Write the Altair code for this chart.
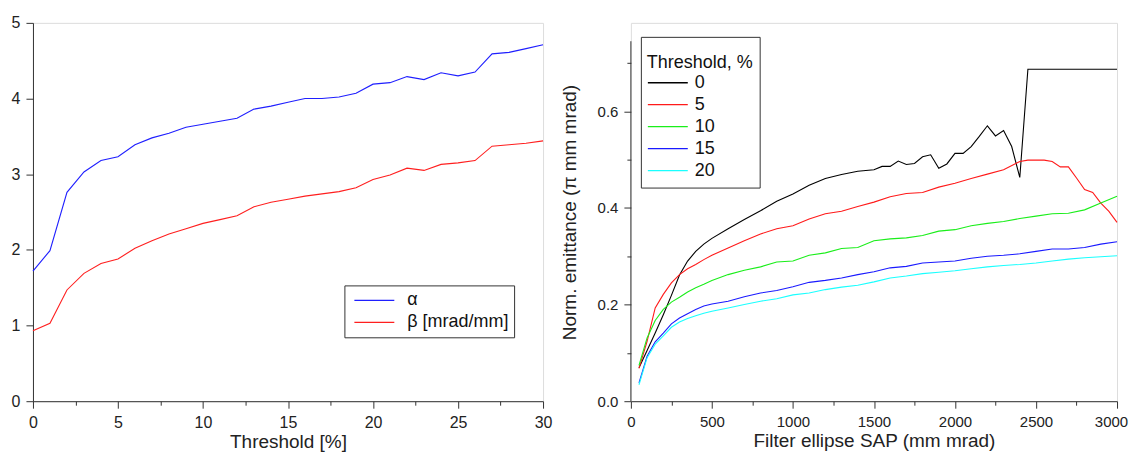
import altair as alt
import pandas as pd

# ---------------- left panel data ----------------
threshold = list(range(31))
alpha_vals = [1.72, 1.99, 2.76, 3.03, 3.18, 3.23, 3.39, 3.48, 3.54, 3.62, 3.66,
              3.70, 3.74, 3.86, 3.90, 3.95, 4.00, 4.00, 4.02, 4.07, 4.19,
              4.21, 4.29, 4.25, 4.34, 4.30, 4.35, 4.59, 4.61, 4.66, 4.71]
beta_vals = [0.93, 1.03, 1.47, 1.69, 1.82, 1.88, 2.02, 2.12, 2.21, 2.28, 2.35,
             2.40, 2.45, 2.57, 2.63, 2.67, 2.71, 2.74, 2.77, 2.82, 2.93,
             2.99, 3.08, 3.05, 3.13, 3.15, 3.18, 3.37, 3.39, 3.41, 3.44]
left_series = ["α", "β [mrad/mm]"]
left_colors = ["#1f1fff", "#ff1f1f"]
left_x_ticks = [0, 2.5, 5, 7.5, 10, 12.5, 15, 17.5, 20, 22.5, 25, 27.5, 30]
left_y_ticks = [0, 0.5, 1, 1.5, 2, 2.5, 3, 3.5, 4, 4.5, 5]

# ---------------- right panel data ----------------
sap_grid = [50, 100, 150, 200, 250, 300, 350, 400, 450, 500,
            600, 700, 800, 900, 1000, 1100, 1200, 1300, 1400, 1500,
            1600, 1700, 1800, 1900, 2000, 2100, 2200, 2300, 2400, 2500,
            2600, 2700, 2800, 2900, 3000]
sap_black = [50, 100, 150, 200, 250, 300, 350, 400, 450, 500,
             600, 700, 800, 900, 1000, 1100, 1200, 1300, 1400, 1500,
             1550, 1600, 1650, 1700, 1750, 1800, 1850, 1900, 1950, 2000,
             2050, 2100, 2150, 2200, 2250, 2300, 2350, 2400, 2450, 2500,
             2600, 2700, 2800, 2900, 3000]
emit_0 = [0.069, 0.105, 0.141, 0.179, 0.219, 0.261, 0.290, 0.310, 0.325, 0.337,
          0.357, 0.376, 0.394, 0.414, 0.429, 0.447, 0.461, 0.469, 0.476, 0.479,
          0.486, 0.486, 0.497, 0.490, 0.492, 0.506, 0.510, 0.482, 0.491, 0.513,
          0.513, 0.527, 0.548, 0.570, 0.549, 0.560, 0.527, 0.463, 0.687, 0.687,
          0.687, 0.687, 0.687, 0.687, 0.687]
sap_red = [50, 100, 150, 200, 250, 300, 350, 400, 450, 500,
           600, 700, 800, 900, 1000, 1100, 1200, 1300, 1400, 1500,
           1600, 1700, 1800, 1900, 2000, 2100, 2200, 2300, 2400, 2450,
           2500, 2550, 2600, 2650, 2700, 2750, 2800, 2850, 2900, 2950, 3000]
emit_5 = [0.068, 0.124, 0.193, 0.221, 0.245, 0.262, 0.274, 0.283, 0.293, 0.302,
          0.317, 0.332, 0.346, 0.357, 0.363, 0.377, 0.388, 0.393, 0.403, 0.412,
          0.423, 0.430, 0.432, 0.443, 0.451, 0.461, 0.470, 0.479, 0.496, 0.499,
          0.499, 0.499, 0.496, 0.485, 0.485, 0.462, 0.438, 0.432, 0.410, 0.393, 0.370]
emit_10 = [0.074, 0.131, 0.167, 0.190, 0.205, 0.215, 0.226, 0.235, 0.242, 0.250,
           0.262, 0.271, 0.278, 0.288, 0.290, 0.302, 0.307, 0.316, 0.318, 0.332,
           0.336, 0.338, 0.343, 0.352, 0.355, 0.363, 0.368, 0.372, 0.378, 0.383,
           0.388, 0.389, 0.396, 0.410, 0.424]
emit_15 = [0.038, 0.093, 0.123, 0.141, 0.160, 0.172, 0.181, 0.190, 0.197, 0.201,
           0.207, 0.216, 0.224, 0.229, 0.237, 0.246, 0.250, 0.255, 0.262, 0.268,
           0.276, 0.279, 0.286, 0.288, 0.290, 0.296, 0.300, 0.302, 0.305, 0.310,
           0.315, 0.315, 0.318, 0.325, 0.330]
emit_20 = [0.034, 0.090, 0.118, 0.135, 0.153, 0.164, 0.171, 0.177, 0.182, 0.186,
           0.193, 0.200, 0.207, 0.212, 0.220, 0.224, 0.231, 0.236, 0.240, 0.247,
           0.255, 0.259, 0.264, 0.267, 0.270, 0.274, 0.278, 0.281, 0.283, 0.286,
           0.290, 0.294, 0.297, 0.299, 0.301]
right_series = ["0", "5", "10", "15", "20"]
right_colors = ["#000000", "#ff1a1a", "#1aee1a", "#1a1aff", "#1affff"]
right_x_ticks = [0, 250, 500, 750, 1000, 1250, 1500, 1750, 2000, 2250, 2500, 2750, 3000]
right_y_ticks = [0.0, 0.1, 0.2, 0.3, 0.4, 0.5, 0.6, 0.7]
right_axis_extent = [0.0, 0.745]

FONT = "Liberation Sans"
AX = "#333333"

left_df = pd.DataFrame({
    "t": threshold + threshold,
    "v": alpha_vals + beta_vals,
    "s": [left_series[0]] * len(threshold) + [left_series[1]] * len(threshold),
})

rows = []
for name, xs, ys in [("0", sap_black, emit_0), ("5", sap_red, emit_5),
                     ("10", sap_grid, emit_10), ("15", sap_grid, emit_15),
                     ("20", sap_grid, emit_20)]:
    for x, y in zip(xs, ys):
        rows.append({"sap": x, "e": y, "thr": name})
right_df = pd.DataFrame(rows)

common_axis = dict(grid=False, domainColor=AX, tickColor=AX, tickWidth=1, domainWidth=1,
                   labelColor="#222222", titleColor="#222222", labelFont=FONT, titleFont=FONT,
                   titleFontWeight="normal", labelPadding=6)

left = alt.Chart(left_df).mark_line(strokeWidth=1.1).encode(
    x=alt.X("t:Q", scale=alt.Scale(domain=[0, 30], nice=False, zero=False),
            axis=alt.Axis(values=left_x_ticks, title="Threshold [%]", titleFontSize=19,
                          labelFontSize=16, titlePadding=2, labelFlush=False, format="d",
                          labelExpr="datum.value % 5 === 0 ? datum.label : ''",
                          tickSize={"condition": {"test": "datum.value % 5 === 0", "value": 7}, "value": 4},
                          **common_axis)),
    y=alt.Y("v:Q", scale=alt.Scale(domain=[0, 5], nice=False),
            axis=alt.Axis(values=left_y_ticks, title=None, labelFontSize=16, labelFlush=False,
                          format="d",
                          labelExpr="datum.value % 1 === 0 ? datum.label : ''",
                          tickSize={"condition": {"test": "datum.value % 1 === 0", "value": 7}, "value": 4},
                          **common_axis)),
    color=alt.Color("s:N", scale=alt.Scale(domain=left_series, range=left_colors),
                    legend=alt.Legend(orient="none", legendX=312, legendY=263, title=None,
                                      symbolType="stroke", symbolSize=1600, symbolStrokeWidth=1.3,
                                      symbolOffset=4, labelOffset=12, clipHeight=20, rowPadding=2,
                                      padding=5, labelFontSize=18, labelFont=FONT, labelColor="#111111",
                                      strokeColor="#333333", fillColor="white")),
).properties(width=511, height=379)

lines_r = alt.Chart(right_df).mark_line(strokeWidth=1.1).encode(
    x=alt.X("sap:Q", scale=alt.Scale(domain=[0, 3000], nice=False),
            axis=alt.Axis(values=right_x_ticks, title="Filter ellipse SAP (mm mrad)", titleFontSize=19,
                          labelFontSize=15, titlePadding=2, labelFlush=False, format="d",
                          labelExpr="datum.value % 500 === 0 ? datum.label : ''",
                          labelOffset={"condition": {"test": "datum.value === 3000", "value": -6}, "value": 0},
                          tickSize={"condition": {"test": "datum.value % 500 === 0", "value": 7}, "value": 4},
                          **common_axis)),
    y=alt.Y("e:Q", scale=alt.Scale(domain=[0, 0.783], nice=False),
            axis=alt.Axis(values=right_y_ticks, title="Norm. emittance (π mm mrad)", titleFontSize=19,
                          labelFontSize=15, titlePadding=18, labelFlush=False, format=".1f", domain=False,
                          labelExpr="round(datum.value * 10) % 2 === 0 ? datum.label : ''",
                          tickSize={"condition": {"test": "round(datum.value * 10) % 2 === 0", "value": 7}, "value": 4},
                          **common_axis)),
    color=alt.Color("thr:N", scale=alt.Scale(domain=right_series, range=right_colors),
                    legend=alt.Legend(orient="none", legendX=10, legendY=14, title=["", "Threshold, %"],
                                      titleLineHeight=11, titleFontSize=18, titleFontWeight="normal",
                                      titleFont=FONT, titleColor="#111111", titlePadding=0,
                                      symbolType="stroke", symbolSize=1600, symbolStrokeWidth=1.3,
                                      labelOffset=6, clipHeight=22, rowPadding=0, padding=6,
                                      labelFontSize=18, labelFont=FONT, labelColor="#111111",
                                      strokeColor="#333333", fillColor="white")),
)

axis_line = alt.Chart(pd.DataFrame({"k": [0]})).mark_rule(color=AX, strokeWidth=1).encode(
    x=alt.value(0),
    y=alt.datum(right_axis_extent[0]),
    y2=alt.datum(right_axis_extent[1]),
)

right = alt.layer(lines_r, axis_line).properties(width=487, height=379)

chart = alt.hconcat(left, right, spacing=88, bounds="flush").resolve_scale(
    color="independent").resolve_legend(color="independent").configure_view(
    stroke=None).configure_legend(strokeWidth=1.5).configure(
    font=FONT, background="white").properties(
    padding={"left": 2, "top": 5.5, "right": 0, "bottom": 0})

chart.save("out.html", embed_options={"renderer": "svg", "actions": False})
